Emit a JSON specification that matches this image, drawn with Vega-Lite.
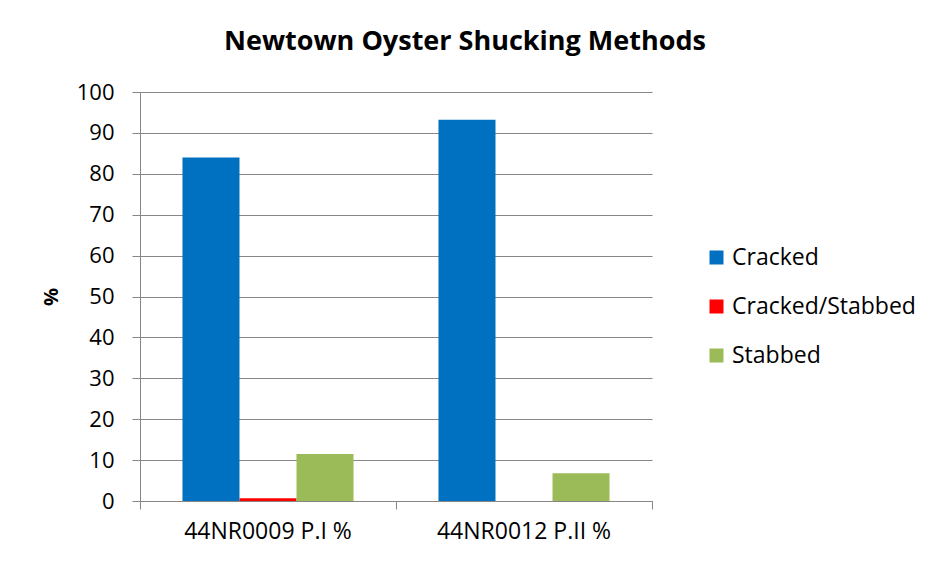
{
  "$schema": "https://vega.github.io/schema/vega-lite/v6.json",
  "width": 512,
  "height": 409,
  "autosize": {"type": "none"},
  "padding": {"left": 140, "top": 92, "right": 276, "bottom": 68},
  "background": "white",
  "title": {
    "text": "Newtown Oyster Shucking Methods",
    "font": "Open Sans",
    "fontSize": 27,
    "fontWeight": "bold",
    "color": "black",
    "anchor": "middle",
    "dx": 69,
    "offset": 25
  },
  "data": {
    "values": [
      {"site": "44NR0009 P.I %", "method": "Cracked", "pct": 84.0},
      {"site": "44NR0009 P.I %", "method": "Cracked/Stabbed", "pct": 0.7},
      {"site": "44NR0009 P.I %", "method": "Stabbed", "pct": 11.5},
      {"site": "44NR0012 P.II %", "method": "Cracked", "pct": 93.2},
      {"site": "44NR0012 P.II %", "method": "Cracked/Stabbed", "pct": 0},
      {"site": "44NR0012 P.II %", "method": "Stabbed", "pct": 6.8}
    ]
  },
  "mark": {"type": "bar"},
  "encoding": {
    "x": {
      "field": "site",
      "type": "nominal",
      "scale": {"paddingInner": 0, "paddingOuter": 0},
      "axis": {
        "title": null,
        "labelAngle": 0,
        "bandPosition": 1,
        "tickExtra": true,
        "tickSize": 8,
        "labelPadding": 11,
        "labelFontSize": 23
      }
    },
    "xOffset": {
      "field": "method",
      "type": "nominal",
      "scale": {"paddingInner": 0, "paddingOuter": 0.745}
    },
    "y": {
      "field": "pct",
      "type": "quantitative",
      "scale": {"domain": [0, 100]},
      "axis": {
        "title": "%",
        "values": [0, 10, 20, 30, 40, 50, 60, 70, 80, 90, 100],
        "labelOverlap": false,
        "tickSize": 8,
        "labelPadding": 18,
        "labelFontSize": 22,
        "titlePadding": 15,
        "titleFontSize": 20,
        "titleFontWeight": "bold"
      }
    },
    "color": {
      "field": "method",
      "type": "nominal",
      "scale": {
        "domain": ["Cracked", "Cracked/Stabbed", "Stabbed"],
        "range": ["#0070C0", "#FF0000", "#9BBB59"]
      },
      "legend": {
        "title": null,
        "orient": "none",
        "legendX": 565,
        "legendY": 154,
        "symbolType": "square",
        "symbolSize": 196,
        "symbolStrokeWidth": 0,
        "labelFontSize": 23,
        "labelOffset": 4,
        "labelLimit": 400,
        "rowPadding": 25
      }
    }
  },
  "config": {
    "font": "Open Sans",
    "view": {"stroke": null},
    "axis": {
      "labelFont": "Open Sans",
      "labelColor": "black",
      "titleColor": "black",
      "titleFont": "Open Sans",
      "domainColor": "#868686",
      "tickColor": "#868686",
      "gridColor": "#868686",
      "domainWidth": 1,
      "tickWidth": 1,
      "gridWidth": 1
    },
    "axisX": {"grid": false},
    "axisY": {"grid": true},
    "legend": {"labelFont": "Open Sans", "labelColor": "black"}
  }
}
